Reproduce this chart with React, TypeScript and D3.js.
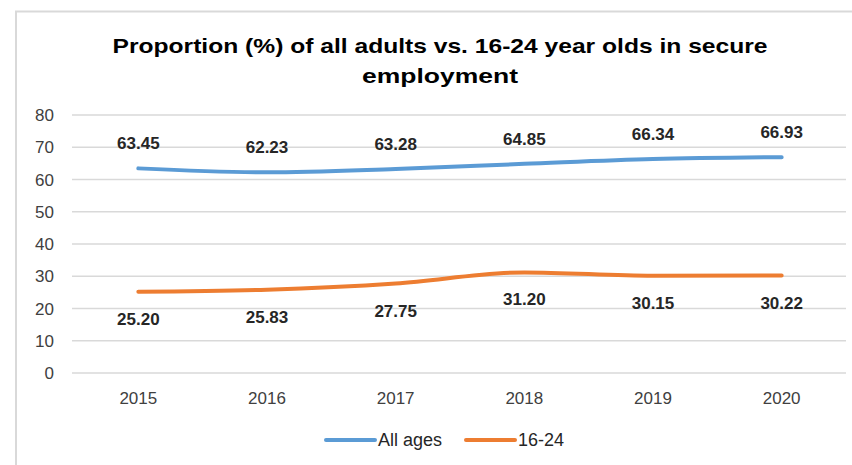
import React, { useEffect, useRef } from 'react'
import * as d3 from 'd3'

// values
const years = ['2015', '2016', '2017', '2018', '2019', '2020']
const allAges = [63.45, 62.23, 63.28, 64.85, 66.34, 66.93]
const youth = [25.2, 25.83, 27.75, 31.2, 30.15, 30.22]
const yTicks = [0, 10, 20, 30, 40, 50, 60, 70, 80]
const seriesNames = ['All ages', '16-24']
const seriesColors = ['#5B9BD5', '#ED7D31']

const W = 852
const H = 465
const FONT = "'Liberation Sans', Arial, sans-serif"

export default function App () {
  const ref = useRef<SVGSVGElement>(null)

  useEffect(() => {
    const svg = d3.select(ref.current)
    svg.selectAll('*').remove()

    svg.append('rect')
      .attr('width', W).attr('height', H).attr('fill', 'white')

    // chart frame (runs off right and bottom)
    svg.append('path')
      .attr('d', `M16,${H + 5} L16,11.5 L${W + 5},11.5`)
      .attr('fill', 'none')
      .attr('stroke', '#d9d9d9')
      .attr('stroke-width', 2)

    // title
    const title = svg.append('text')
      .attr('text-anchor', 'middle')
      .attr('font-family', FONT)
      .attr('font-weight', 'bold')
      .attr('font-size', 21)
      .attr('fill', '#000')
    title.append('tspan').attr('x', 440).attr('y', 53)
      .attr('textLength', 655).attr('lengthAdjust', 'spacingAndGlyphs')
      .text('Proportion (%) of all adults vs. 16-24 year olds in secure')
    title.append('tspan').attr('x', 440).attr('y', 83)
      .attr('textLength', 156).attr('lengthAdjust', 'spacingAndGlyphs')
      .text('employment')

    const x = d3.scaleBand().domain(years).range([74, 846])
    const y = d3.scaleLinear().domain([0, 80]).range([373, 115])
    const cx = (d: string) => (x(d) as number) + x.bandwidth() / 2

    // gridlines
    svg.append('g').selectAll('line')
      .data(yTicks)
      .enter().append('line')
      .attr('x1', 72).attr('x2', 846)
      .attr('y1', d => y(d)).attr('y2', d => y(d))
      .attr('stroke', '#d9d9d9').attr('stroke-width', 1.3)

    // y tick labels
    svg.append('g').selectAll('text')
      .data(yTicks)
      .enter().append('text')
      .attr('x', 54).attr('y', d => y(d) + 6)
      .attr('text-anchor', 'end')
      .attr('font-family', FONT).attr('font-size', 17)
      .attr('fill', '#404040')
      .text(d => d)

    // x tick labels
    svg.append('g').selectAll('text')
      .data(years)
      .enter().append('text')
      .attr('x', d => cx(d)).attr('y', 404)
      .attr('text-anchor', 'middle')
      .attr('font-family', FONT).attr('font-size', 17)
      .attr('fill', '#404040')
      .text(d => d)

    const line = d3.line<number>()
      .x((d, i) => cx(years[i]))
      .y(d => y(d))
      .curve(d3.curveMonotoneX)

    const series = [allAges, youth]
    series.forEach((vals, s) => {
      svg.append('path')
        .datum(vals)
        .attr('d', line)
        .attr('fill', 'none')
        .attr('stroke', seriesColors[s])
        .attr('stroke-width', 4)
        .attr('stroke-linecap', 'round')

      // data labels: above for all ages, below for 16-24
      svg.append('g').selectAll('text')
        .data(vals)
        .enter().append('text')
        .attr('x', (d, i) => cx(years[i]))
        .attr('y', d => s === 0 ? y(d) - 19 : y(d) + 33)
        .attr('text-anchor', 'middle')
        .attr('font-family', FONT).attr('font-size', 17)
        .attr('font-weight', 'bold')
        .attr('fill', '#262626')
        .text(d => d.toFixed(2))
    })

    // legend
    const legendX = [326, 466]
    const lg = svg.append('g')
    seriesNames.forEach((name, s) => {
      lg.append('line')
        .attr('x1', legendX[s]).attr('x2', legendX[s] + 49)
        .attr('y1', 440).attr('y2', 440)
        .attr('stroke', seriesColors[s]).attr('stroke-width', 4)
        .attr('stroke-linecap', 'round')
      lg.append('text')
        .attr('x', legendX[s] + 52).attr('y', 446)
        .attr('font-family', FONT).attr('font-size', 18)
        .attr('fill', '#262626')
        .text(name)
    })
  }, [])

  return (
    <svg ref={ref} width={W} height={H}
      style={{ position: 'absolute', left: 0, top: 0 }} />
  )
}
